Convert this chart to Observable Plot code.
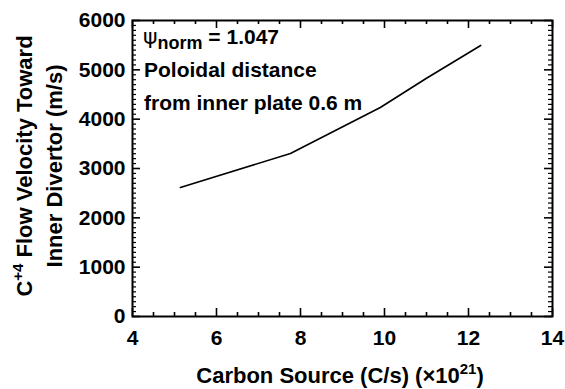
<!DOCTYPE html>
<html>
<head>
<meta charset="utf-8">
<script src="https://cdn.jsdelivr.net/npm/d3@7"></script>
<script src="https://cdn.jsdelivr.net/npm/@observablehq/plot@0.6"></script>
<style>
  html, body { margin: 0; padding: 0; background: #fff; }
  #chart svg { display: block; }
</style>
</head>
<body>
<div id="chart"></div>
<script>
// Data
const carbonSource = [5.14, 7.76, 9.90, 11.0, 12.29];   // ×10^21 C/s
const flowVelocity = [2615, 3304, 4237, 4830, 5494];   // m/s

const xTicks = [4, 6, 8, 10, 12, 14];
const yTicks = [0, 1000, 2000, 3000, 4000, 5000, 6000];
const annotationLines = ["Poloidal distance", "from inner plate 0.6 m"];
const psiValue = "= 1.047";
const xLabel = "Carbon Source (C/s) (\u00d710";
const xLabelExp = "21";
const yLabel1Pre = "C";
const yLabel1Sup = "+4";
const yLabel1Post = " Flow Velocity Toward";
const yLabel2 = "Inner Divertor (m/s)";

const data = carbonSource.map((x, i) => ({x, y: flowVelocity[i]}));

const W = 565, H = 389;
const mL = 132, mR = 13, mT = 20, mB = 73;
const pw = W - mL - mR, ph = H - mT - mB;
const xMin = 4, xMax = 14, yMin = 0, yMax = 6000;
const pxX = (xMax - xMin) / pw, pxY = (yMax - yMin) / ph;  // data units per pixel
const major = 8, minor = 4;

const xMinor = d3.range(4, 14.01, 0.5).filter(v => !xTicks.includes(v));
const yMinor = d3.range(0, 6001, 100).filter(v => !yTicks.includes(v));

const font = "'Liberation Sans', Arial, Helvetica, sans-serif";
const tk = {stroke: "black", strokeWidth: 1.6};
const tkm = {stroke: "black", strokeWidth: 1.2};

const chart = Plot.plot({
  width: W, height: H,
  marginLeft: mL, marginRight: mR, marginTop: mT, marginBottom: mB,
  style: {fontFamily: font, fontSize: "21px", fontWeight: "bold", color: "black", background: "white"},
  x: {domain: [xMin, xMax]},
  y: {domain: [yMin, yMax]},
  marks: [
    Plot.frame({strokeWidth: 2}),
    Plot.axisX({ticks: xTicks, tickSize: 0, tickPadding: 14, label: null, fontSize: 21, fontWeight: "bold", tickFormat: d => String(d)}),
    Plot.axisY({ticks: yTicks, tickSize: 0, tickPadding: 7, label: null, fontSize: 21, fontWeight: "bold", tickFormat: d => String(d)}),
    // bottom / top x ticks (inward)
    Plot.ruleX(xTicks, {x: d => d, y1: yMin, y2: yMin + major * pxY, ...tk}),
    Plot.ruleX(xTicks, {x: d => d, y1: yMax, y2: yMax - major * pxY, ...tk}),
    Plot.ruleX(xMinor, {x: d => d, y1: yMin, y2: yMin + minor * pxY, ...tk}),
    Plot.ruleX(xMinor, {x: d => d, y1: yMax, y2: yMax - minor * pxY, ...tk}),
    // left / right y ticks (inward)
    Plot.ruleY(yTicks, {y: d => d, x1: xMin, x2: xMin + major * pxX, ...tk}),
    Plot.ruleY(yTicks, {y: d => d, x1: xMax, x2: xMax - major * pxX, ...tk}),
    Plot.ruleY(yMinor, {y: d => d, x1: xMin, x2: xMin + minor * pxX, ...tkm}),
    Plot.ruleY(yMinor, {y: d => d, x1: xMax, x2: xMax - minor * pxX, ...tkm}),
    Plot.lineY(data, {x: "x", y: "y", stroke: "black", strokeWidth: 1.6})
  ]
});

document.getElementById("chart").appendChild(chart);

const svg = d3.select(chart);
function addText(x, y) {
  return svg.append("text")
    .attr("x", x).attr("y", y)
    .attr("text-anchor", "start")
    .style("font-family", font).style("font-size", "21px").style("font-weight", "bold")
    .attr("fill", "black");
}

// psi annotation
const psi = addText(mL + 11, mT + 24);
psi.append("tspan").text("\u03c8").style("font-family", "'DejaVu Sans', sans-serif").style("font-weight", "normal").style("font-size", "22px");
psi.append("tspan").text("norm").attr("dy", 5).style("font-size", "18px");
psi.append("tspan").text(" " + psiValue).attr("dy", -5);

// other annotation lines
annotationLines.forEach((t, i) => {
  addText(mL + 12, mT + 57 + i * 33).text(t);
});

// x axis label
const xl = addText(mL + pw / 2 - 2, 383).attr("text-anchor", "middle").style("font-size", "22px");
xl.append("tspan").text(xLabel);
xl.append("tspan").text(xLabelExp).attr("dy", -9).style("font-size", "15px");
xl.append("tspan").text(")").attr("dy", 9);

// y axis label (two lines, rotated)
const yl1 = addText(0, 0).attr("text-anchor", "middle").style("font-size", "22px")
  .attr("transform", `translate(32,${mT + ph / 2 - 2}) rotate(-90)`);
yl1.append("tspan").text(yLabel1Pre);
yl1.append("tspan").text(yLabel1Sup).attr("dy", -9).style("font-size", "15px");
yl1.append("tspan").text(yLabel1Post).attr("dy", 9);

addText(0, 0).attr("text-anchor", "middle").style("font-size", "22px")
  .attr("transform", `translate(62,${mT + ph / 2 - 2}) rotate(-90)`)
  .text(yLabel2);
</script>
</body>
</html>
